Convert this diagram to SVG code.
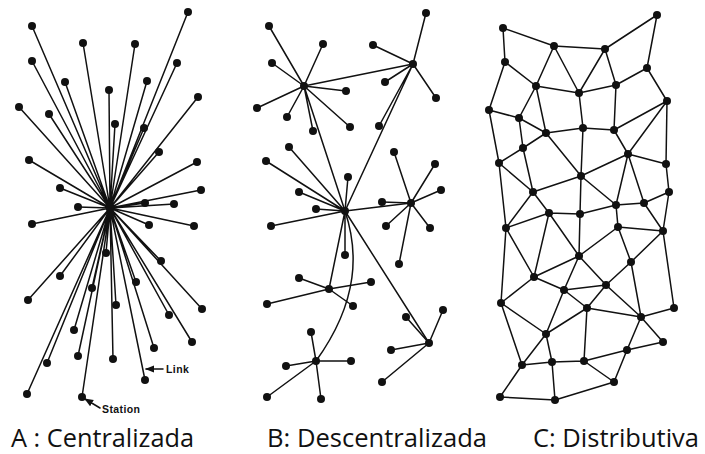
<svg xmlns="http://www.w3.org/2000/svg" width="705" height="454" viewBox="0 0 705 454">
<defs>
<style>
.e{stroke:#111;stroke-width:1.5;fill:none;stroke-linecap:round}
.n{fill:#111}
.lbl{font-family:"Open Sans","DejaVu Sans",sans-serif;font-size:26px;fill:#111}
.sm{font-family:"Liberation Sans","DejaVu Sans",sans-serif;font-size:10.5px;font-weight:bold;fill:#111;letter-spacing:0.4px}
</style>
<marker id="ah" viewBox="0 0 10 10" refX="9" refY="5" markerWidth="6" markerHeight="6" orient="auto-start-reverse">
<path d="M0,1 L10,5 L0,9 Z" fill="#111"/>
</marker>
</defs>
<rect width="705" height="454" fill="#fff"/>
<g id="connectors">
<g id="edges-a">
<path class="e" d="M110,208L32,26M110,208L188,12M110,208L83,43M110,208L135,44M110,208L32,61M110,208L177,63M110,208L65,82M110,208L147,81M110,208L109,90M110,208L198,97M110,208L19,107M110,208L49,114M110,208L115,124M110,208L144,128M110,208L159,152M110,208L29,160M110,208L197,162M110,208L60,188M110,208L201,190M110,208L78,207M110,208L145,203M110,208L174,204M110,208L32,224M110,208L149,225M110,208L194,226M110,208L106,253M110,208L161,261M110,208L60,276M110,208L92,288M110,208L136,282M110,208L28,300M110,208L116,305M110,208L202,309M110,208L169,315M110,208L74,330M110,208L192,342M110,208L154,348M110,208L78,356M110,208L47,363M110,208L113,359M110,208L145,380M110,208L27,394M110,208L82,397"/>
</g>
<g id="edges-b">
<path class="e" d="M304,86L269,26M304,86L323,44M304,86L272,63M304,86L346,91M304,86L257,108M304,86L287,117M304,86L313,131M304,86L350,127M304,86L413,64M304,86L345,211"/>
<path class="e" d="M413,64L426,13M413,64L373,45M413,64L385,82M413,64L436,98M413,64L379,126M413,64L345,211"/>
<path class="e" d="M345,211L289,147M345,211L266,161M345,211L348,177M345,211L299,192M345,211L316,209M345,211L271,226M345,211L345,255M345,211L411,203M345,211L329,289M345,211L429,343"/>
<path class="e" d="M345,211C358,250 360,300 316,361"/>
<path class="e" d="M411,203L394,152M411,203L435,164M411,203L441,190M411,203L382,202M411,203L386,226M411,203L430,228M411,203L399,264"/>
<path class="e" d="M329,289L299,278M329,289L371,282M329,289L267,304M329,289L353,306"/>
<path class="e" d="M429,343L406,317M429,343L443,310M429,343L391,350M429,343L382,382"/>
<path class="e" d="M316,361L311,332M316,361L286,366M316,361L351,361M316,361L267,397M316,361L321,399"/>
</g>
<g id="edges-c">
<path class="e" d="M503,28L554,46M503,28L505,62M554,46L605,49M605,49L657,15M657,15L647,68M554,46L536,86M554,46L579,93M605,49L579,93M605,49L616,85M505,62L536,86M505,62L489,110M536,86L579,93M579,93L616,85M616,85L647,68M647,68L667,101M536,86L519,118M536,86L546,133M579,93L583,128M616,85L614,130M489,110L519,118M489,110L499,163M519,118L546,133M519,118L523,148M546,133L583,128M583,128L614,130M614,130L667,101M667,101L628,154M667,101L666,164M614,130L628,154M546,133L523,148M546,133L581,176M583,128L581,176M523,148L499,163M523,148L533,192M499,163L533,192M581,176L533,192M581,176L628,154M628,154L666,164M628,154L616,205M628,154L644,203M666,164L669,192M669,192L644,203M616,205L644,203M581,176L616,205"/>
<path class="e" d="M499,163L506,228M533,192L549,213M533,192L506,228M581,176L580,214M616,205L580,214M616,205L618,227M644,203L663,231M669,192L663,231"/>
<path class="e" d="M549,213L580,214M549,213L506,228M549,213L534,277M549,213L579,256M580,214L579,256M618,227L663,231M618,227L579,256M618,227L631,262M631,262L663,231M631,262L641,317M579,256L534,277M579,256L564,290M579,256L606,285M506,228L534,277M506,228L501,303M534,277L564,290M534,277L501,303M564,290L606,285M564,290L587,308M564,290L546,334M606,285L631,262M606,285L587,308M606,285L641,317M587,308L641,317M587,308L546,334M587,308L584,361M501,303L546,334M501,303L522,365M546,334L522,365M546,334L552,362M641,317L674,308M641,317L663,342M641,317L627,350M674,308L663,231M627,350L663,342M627,350L614,382M584,361L614,382M522,365L552,362M552,362L584,361M522,365L500,397M500,397L555,400M552,362L555,400M555,400L614,382M584,361L627,350"/>
</g>
<g id="annotations">
<line class="e" x1="163" y1="369" x2="146" y2="369" marker-end="url(#ah)"/>
<line class="e" x1="100" y1="408" x2="85" y2="399" marker-end="url(#ah)"/>
</g>
</g>
<g id="nodes-a" class="n">
<g id="a-hub"><circle cx="110" cy="208" r="4.5"/></g>
<g id="a1"><circle cx="32" cy="26" r="4"/></g>
<g id="a2"><circle cx="188" cy="12" r="4"/></g>
<g id="a3"><circle cx="83" cy="43" r="4"/></g>
<g id="a4"><circle cx="135" cy="44" r="4"/></g>
<g id="a5"><circle cx="32" cy="61" r="4"/></g>
<g id="a6"><circle cx="177" cy="63" r="4"/></g>
<g id="a7"><circle cx="65" cy="82" r="4"/></g>
<g id="a8"><circle cx="147" cy="81" r="4"/></g>
<g id="a9"><circle cx="109" cy="90" r="4"/></g>
<g id="a10"><circle cx="198" cy="97" r="4"/></g>
<g id="a11"><circle cx="19" cy="107" r="4"/></g>
<g id="a12"><circle cx="49" cy="114" r="4"/></g>
<g id="a13"><circle cx="115" cy="124" r="4"/></g>
<g id="a14"><circle cx="144" cy="128" r="4"/></g>
<g id="a15"><circle cx="159" cy="152" r="4"/></g>
<g id="a16"><circle cx="29" cy="160" r="4"/></g>
<g id="a17"><circle cx="197" cy="162" r="4"/></g>
<g id="a18"><circle cx="60" cy="188" r="4"/></g>
<g id="a19"><circle cx="201" cy="190" r="4"/></g>
<g id="a20"><circle cx="78" cy="207" r="4"/></g>
<g id="a21"><circle cx="145" cy="203" r="4"/></g>
<g id="a22"><circle cx="174" cy="204" r="4"/></g>
<g id="a23"><circle cx="32" cy="224" r="4"/></g>
<g id="a24"><circle cx="149" cy="225" r="4"/></g>
<g id="a25"><circle cx="194" cy="226" r="4"/></g>
<g id="a26"><circle cx="106" cy="253" r="4"/></g>
<g id="a27"><circle cx="161" cy="261" r="4"/></g>
<g id="a28"><circle cx="60" cy="276" r="4"/></g>
<g id="a29"><circle cx="92" cy="288" r="4"/></g>
<g id="a30"><circle cx="136" cy="282" r="4"/></g>
<g id="a31"><circle cx="28" cy="300" r="4"/></g>
<g id="a32"><circle cx="116" cy="305" r="4"/></g>
<g id="a33"><circle cx="202" cy="309" r="4"/></g>
<g id="a34"><circle cx="169" cy="315" r="4"/></g>
<g id="a35"><circle cx="74" cy="330" r="4"/></g>
<g id="a36"><circle cx="192" cy="342" r="4"/></g>
<g id="a37"><circle cx="154" cy="348" r="4"/></g>
<g id="a38"><circle cx="78" cy="356" r="4"/></g>
<g id="a39"><circle cx="47" cy="363" r="4"/></g>
<g id="a40"><circle cx="113" cy="359" r="4"/></g>
<g id="a41"><circle cx="145" cy="380" r="4"/></g>
<g id="a42"><circle cx="27" cy="394" r="4"/></g>
<g id="a43"><circle cx="82" cy="397" r="4"/></g>
</g>
<g id="nodes-b" class="n">
<g id="b-hub1"><circle cx="304" cy="86" r="4"/></g>
<g id="b-hub2"><circle cx="413" cy="64" r="4"/></g>
<g id="b-hub3"><circle cx="345" cy="211" r="4"/></g>
<g id="b-hub4"><circle cx="411" cy="203" r="4"/></g>
<g id="b-hub5"><circle cx="329" cy="289" r="4"/></g>
<g id="b-hub6"><circle cx="429" cy="343" r="4"/></g>
<g id="b-hub7"><circle cx="316" cy="361" r="4"/></g>
<g id="b1"><circle cx="269" cy="26" r="4"/></g>
<g id="b2"><circle cx="323" cy="44" r="4"/></g>
<g id="b3"><circle cx="272" cy="63" r="4"/></g>
<g id="b4"><circle cx="346" cy="91" r="4"/></g>
<g id="b5"><circle cx="257" cy="108" r="4"/></g>
<g id="b6"><circle cx="287" cy="117" r="4"/></g>
<g id="b7"><circle cx="313" cy="131" r="4"/></g>
<g id="b8"><circle cx="350" cy="127" r="4"/></g>
<g id="b9"><circle cx="426" cy="13" r="4"/></g>
<g id="b10"><circle cx="373" cy="45" r="4"/></g>
<g id="b11"><circle cx="385" cy="82" r="4"/></g>
<g id="b12"><circle cx="436" cy="98" r="4"/></g>
<g id="b13"><circle cx="379" cy="126" r="4"/></g>
<g id="b14"><circle cx="289" cy="147" r="4"/></g>
<g id="b15"><circle cx="266" cy="161" r="4"/></g>
<g id="b16"><circle cx="348" cy="177" r="4"/></g>
<g id="b17"><circle cx="299" cy="192" r="4"/></g>
<g id="b18"><circle cx="316" cy="209" r="4"/></g>
<g id="b19"><circle cx="271" cy="226" r="4"/></g>
<g id="b20"><circle cx="345" cy="255" r="4"/></g>
<g id="b21"><circle cx="394" cy="152" r="4"/></g>
<g id="b22"><circle cx="435" cy="164" r="4"/></g>
<g id="b23"><circle cx="441" cy="190" r="4"/></g>
<g id="b24"><circle cx="382" cy="202" r="4"/></g>
<g id="b25"><circle cx="386" cy="226" r="4"/></g>
<g id="b26"><circle cx="430" cy="228" r="4"/></g>
<g id="b27"><circle cx="399" cy="264" r="4"/></g>
<g id="b28"><circle cx="299" cy="278" r="4"/></g>
<g id="b29"><circle cx="371" cy="282" r="4"/></g>
<g id="b30"><circle cx="267" cy="304" r="4"/></g>
<g id="b31"><circle cx="353" cy="306" r="4"/></g>
<g id="b32"><circle cx="406" cy="317" r="4"/></g>
<g id="b33"><circle cx="443" cy="310" r="4"/></g>
<g id="b34"><circle cx="391" cy="350" r="4"/></g>
<g id="b35"><circle cx="382" cy="382" r="4"/></g>
<g id="b36"><circle cx="311" cy="332" r="4"/></g>
<g id="b37"><circle cx="286" cy="366" r="4"/></g>
<g id="b38"><circle cx="351" cy="361" r="4"/></g>
<g id="b39"><circle cx="267" cy="397" r="4"/></g>
<g id="b40"><circle cx="321" cy="399" r="4"/></g>
</g>
<g id="nodes-c" class="n">
<g id="c1"><circle cx="503" cy="28" r="4"/></g>
<g id="c2"><circle cx="554" cy="46" r="4"/></g>
<g id="c3"><circle cx="605" cy="49" r="4"/></g>
<g id="c4"><circle cx="657" cy="15" r="4"/></g>
<g id="c5"><circle cx="505" cy="62" r="4"/></g>
<g id="c6"><circle cx="536" cy="86" r="4"/></g>
<g id="c7"><circle cx="579" cy="93" r="4"/></g>
<g id="c8"><circle cx="616" cy="85" r="4"/></g>
<g id="c9"><circle cx="647" cy="68" r="4"/></g>
<g id="c10"><circle cx="667" cy="101" r="4"/></g>
<g id="c11"><circle cx="489" cy="110" r="4"/></g>
<g id="c12"><circle cx="519" cy="118" r="4"/></g>
<g id="c13"><circle cx="546" cy="133" r="4"/></g>
<g id="c14"><circle cx="583" cy="128" r="4"/></g>
<g id="c15"><circle cx="614" cy="130" r="4"/></g>
<g id="c16"><circle cx="523" cy="148" r="4"/></g>
<g id="c17"><circle cx="628" cy="154" r="4"/></g>
<g id="c18"><circle cx="499" cy="163" r="4"/></g>
<g id="c19"><circle cx="666" cy="164" r="4"/></g>
<g id="c20"><circle cx="581" cy="176" r="4"/></g>
<g id="c21"><circle cx="533" cy="192" r="4"/></g>
<g id="c22"><circle cx="669" cy="192" r="4"/></g>
<g id="c23"><circle cx="616" cy="205" r="4"/></g>
<g id="c24"><circle cx="644" cy="203" r="4"/></g>
<g id="c25"><circle cx="549" cy="213" r="4"/></g>
<g id="c26"><circle cx="580" cy="214" r="4"/></g>
<g id="c27"><circle cx="506" cy="228" r="4"/></g>
<g id="c28"><circle cx="618" cy="227" r="4"/></g>
<g id="c29"><circle cx="663" cy="231" r="4"/></g>
<g id="c30"><circle cx="579" cy="256" r="4"/></g>
<g id="c31"><circle cx="631" cy="262" r="4"/></g>
<g id="c32"><circle cx="534" cy="277" r="4"/></g>
<g id="c33"><circle cx="564" cy="290" r="4"/></g>
<g id="c34"><circle cx="606" cy="285" r="4"/></g>
<g id="c35"><circle cx="501" cy="303" r="4"/></g>
<g id="c36"><circle cx="587" cy="308" r="4"/></g>
<g id="c37"><circle cx="674" cy="308" r="4"/></g>
<g id="c38"><circle cx="641" cy="317" r="4"/></g>
<g id="c39"><circle cx="546" cy="334" r="4"/></g>
<g id="c40"><circle cx="663" cy="342" r="4"/></g>
<g id="c41"><circle cx="627" cy="350" r="4"/></g>
<g id="c42"><circle cx="522" cy="365" r="4"/></g>
<g id="c43"><circle cx="552" cy="362" r="4"/></g>
<g id="c44"><circle cx="584" cy="361" r="4"/></g>
<g id="c45"><circle cx="614" cy="382" r="4"/></g>
<g id="c46"><circle cx="500" cy="397" r="4"/></g>
<g id="c47"><circle cx="555" cy="400" r="4"/></g>
</g>
<g id="labels">
<text class="sm" x="166" y="373">Link</text>
<text class="sm" x="102" y="413">Station</text>
<text class="lbl" x="11" y="447" textLength="183" lengthAdjust="spacingAndGlyphs">A : Centralizada</text>
<text class="lbl" x="267" y="447" textLength="220" lengthAdjust="spacingAndGlyphs">B: Descentralizada</text>
<text class="lbl" x="533" y="447" textLength="166" lengthAdjust="spacingAndGlyphs">C: Distributiva</text>
</g>
</svg>
